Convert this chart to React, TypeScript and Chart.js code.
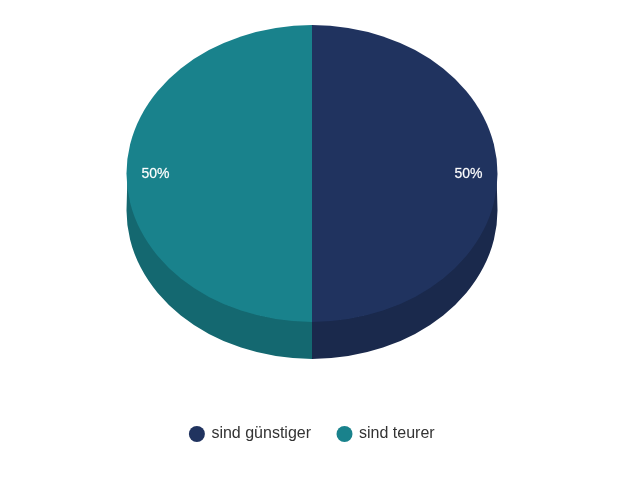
import React, { useEffect, useRef } from "react";
import { Chart, registerables } from "chart.js";

Chart.register(...registerables);

const categories = ["sind günstiger", "sind teurer"];
const values = [50, 50];
const colors = ["#20335f", "#19828c"];
const sideColors = ["#1a294c", "#146870"];

const CENTER_Y = 173.5;
const SQUASH = 0.8;
const DEPTH = 37;
const LABEL_RADIUS = 156.5;
const SHIFT_X = -0.5;
const FONT = '"Liberation Sans", Arial, sans-serif';

const tilt3d = {
  id: "tilt3d",
  beforeDatasetDraw(chart: any) {
    const { ctx } = chart;
    const meta = chart.getDatasetMeta(0);
    const first = meta.data[0];
    ctx.save();
    ctx.translate(SHIFT_X, CENTER_Y);
    ctx.scale(1, SQUASH);
    ctx.translate(0, -first.y);
    // side wall: visible lower half of each slice
    const wall = DEPTH / SQUASH;
    meta.data.forEach((el: any, i: number) => {
      const s = Math.max(el.startAngle, 0);
      const e = Math.min(el.endAngle, Math.PI);
      if (e <= s) return;
      ctx.beginPath();
      ctx.arc(el.x, el.y + wall, el.outerRadius, s, e, false);
      ctx.arc(el.x, el.y, el.outerRadius - 1, e, s, true);
      ctx.closePath();
      ctx.fillStyle = sideColors[i];
      ctx.fill();
    });
  },
  afterDatasetDraw(chart: any) {
    chart.ctx.restore();
  },
  afterDatasetsDraw(chart: any) {
    const { ctx } = chart;
    const meta = chart.getDatasetMeta(0);
    ctx.save();
    ctx.font = `14px ${FONT}`;
    ctx.textAlign = "center";
    ctx.textBaseline = "middle";
    ctx.fillStyle = "#ffffff";
    ctx.strokeStyle = "rgba(255,255,255,0.6)";
    ctx.lineWidth = 0.35;
    meta.data.forEach((el: any, i: number) => {
      const mid = (el.startAngle + el.endAngle) / 2;
      const x = SHIFT_X + el.x + Math.cos(mid) * LABEL_RADIUS;
      const y = CENTER_Y + 0.5 + Math.sin(mid) * LABEL_RADIUS * SQUASH;
      const text = `${values[i]}%`;
      ctx.fillText(text, x, y);
      ctx.strokeText(text, x, y);
    });
    ctx.restore();
  },
};

export default function App() {
  const ref = useRef<HTMLCanvasElement>(null);
  useEffect(() => {
    document.body.style.margin = "0";
    document.body.style.background = "#ffffff";
    const chart = new Chart(ref.current as HTMLCanvasElement, {
      type: "pie",
      data: {
        labels: categories,
        datasets: [
          {
            data: values,
            backgroundColor: colors,
            borderWidth: 0,
            radius: 185.5,
          } as any,
        ],
      },
      options: {
        responsive: false,
        animation: false,
        devicePixelRatio: 1,
        layout: { padding: { top: 10, left: 0, right: 15, bottom: 28 } },
        plugins: {
          tooltip: { enabled: false },
          legend: {
            position: "bottom",
            labels: {
              usePointStyle: true,
              pointStyle: "circle",
              boxWidth: 13,
              boxHeight: 11.3,
              padding: 27,
              color: "#333333",
              font: { size: 16, family: FONT },
            },
          },
        },
      },
      plugins: [tilt3d],
    });
    return () => chart.destroy();
  }, []);
  return (
    <div style={{ position: "absolute", left: 0, top: 0, width: 640, height: 480 }}>
      <canvas ref={ref} width={640} height={480} style={{ display: "block" }} />
    </div>
  );
}
